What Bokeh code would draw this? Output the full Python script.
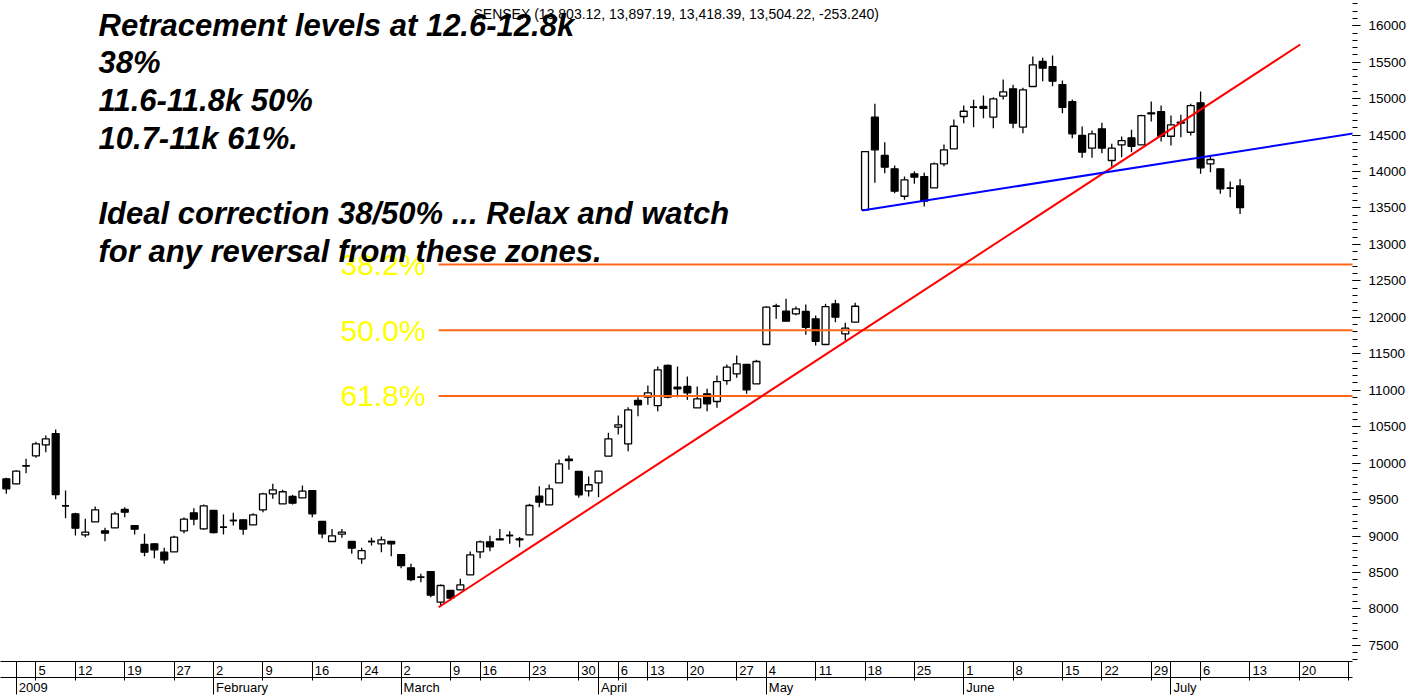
from bokeh.plotting import figure
from bokeh.models import (Range1d, LinearAxis, FixedTicker, SingleIntervalTicker,
                          Label, ColumnDataSource)
from bokeh.embed import file_html
from bokeh.resources import INLINE

# ---------------- data ----------------
dates = ["2008-12-31", "2009-01-01", "2009-01-02", "2009-01-05", "2009-01-06", "2009-01-07",
         "2009-01-09", "2009-01-12", "2009-01-13", "2009-01-14", "2009-01-15", "2009-01-16",
         "2009-01-19", "2009-01-20", "2009-01-21", "2009-01-22", "2009-01-23", "2009-01-27",
         "2009-01-28", "2009-01-29", "2009-01-30", "2009-02-02", "2009-02-03", "2009-02-04",
         "2009-02-05", "2009-02-06", "2009-02-09", "2009-02-10", "2009-02-11", "2009-02-12",
         "2009-02-13", "2009-02-16", "2009-02-17", "2009-02-18", "2009-02-19", "2009-02-20",
         "2009-02-24", "2009-02-25", "2009-02-26", "2009-02-27", "2009-03-02", "2009-03-03",
         "2009-03-04", "2009-03-05", "2009-03-06", "2009-03-09", "2009-03-12", "2009-03-13",
         "2009-03-16", "2009-03-17", "2009-03-18", "2009-03-19", "2009-03-20", "2009-03-23",
         "2009-03-24", "2009-03-25", "2009-03-26", "2009-03-27", "2009-03-30", "2009-03-31",
         "2009-04-01", "2009-04-02", "2009-04-06", "2009-04-08", "2009-04-09", "2009-04-13",
         "2009-04-15", "2009-04-16", "2009-04-17", "2009-04-20", "2009-04-21", "2009-04-22",
         "2009-04-23", "2009-04-24", "2009-04-27", "2009-04-28", "2009-04-29", "2009-05-04",
         "2009-05-05", "2009-05-06", "2009-05-07", "2009-05-08", "2009-05-11", "2009-05-12",
         "2009-05-13", "2009-05-14", "2009-05-15", "2009-05-18", "2009-05-19", "2009-05-20",
         "2009-05-21", "2009-05-22", "2009-05-25", "2009-05-26", "2009-05-27", "2009-05-28",
         "2009-05-29", "2009-06-01", "2009-06-02", "2009-06-03", "2009-06-04", "2009-06-05",
         "2009-06-08", "2009-06-09", "2009-06-10", "2009-06-11", "2009-06-12", "2009-06-15",
         "2009-06-16", "2009-06-17", "2009-06-18", "2009-06-22", "2009-06-23", "2009-06-24",
         "2009-06-25", "2009-06-26", "2009-06-29", "2009-06-30", "2009-07-01", "2009-07-02",
         "2009-07-03", "2009-07-06", "2009-07-07", "2009-07-08", "2009-07-09", "2009-07-10"]

opens = [9785, 9716, 9960, 10100, 10251, 10406, 9414, 9305, 9017, 9195, 9071, 9113,
         9364, 9144, 8884, 8893, 8778, 8783, 9071, 9318, 9099, 9350, 9121, 9213,
         9222, 9154, 9360, 9579, 9442, 9542, 9524, 9624, 9199, 8925, 9025, 8925,
         8687, 8925, 8893, 8925, 8746, 8564, 8435, 8513, 8092, 8253, 8262, 8468,
         8783, 8921, 8962, 9007, 8962, 9017, 9546, 9428, 9730, 10054, 9885, 9620,
         9730, 10095, 10493, 10265, 10859, 10904, 10790, 11339, 11041, 11051, 10759, 10951,
         10845, 11133, 11225, 11353, 11088, 11627, 12152, 12084, 12048, 12080, 11980, 11627,
         12185, 11774, 11933, 13475, 14745, 14220, 14037, 13661, 13968, 13931, 13776, 14106,
         14311, 14755, 14882, 14892, 14745, 15033, 15134, 14608, 15166, 15509, 15440, 15193,
         14960, 14494, 14320, 14586, 14151, 14366, 14462, 14366, 14805, 14823, 14484, 14676,
         14539, 14942, 14106, 14037, 13771, 13803]
highs = [9799, 9903, 10059, 10292, 10379, 10461, 9624, 9319, 9236, 9405, 9113, 9332,
         9395, 9144, 9030, 8902, 8838, 9003, 9254, 9382, 9432, 9350, 9295, 9318,
         9222, 9313, 9593, 9716, 9634, 9565, 9693, 9624, 9199, 9097, 9097, 8925,
         8838, 8975, 8994, 8925, 8746, 8619, 8481, 8513, 8335, 8253, 8413, 8788,
         8939, 9003, 9097, 9066, 8985, 9442, 9683, 9707, 10050, 10104, 9885, 9816,
         9889, 10416, 10653, 10767, 10904, 11065, 11325, 11353, 11325, 11188, 11051, 11019,
         11202, 11353, 11476, 11353, 11417, 12152, 12185, 12254, 12148, 12176, 12025, 12185,
         12240, 11925, 12199, 14274, 14929, 14402, 14082, 13931, 14004, 13982, 14124, 14370,
         14713, 14905, 14984, 15043, 15019, 15262, 15189, 15148, 15578, 15560, 15591, 15248,
         14988, 14617, 14562, 14668, 14380, 14480, 14572, 14778, 14960, 14905, 14768, 14778,
         14929, 15097, 14206, 14037, 13863, 13897]
lows = [9579, 9710, 9862, 10073, 10150, 9505, 9244, 9007, 8984, 9195, 8929, 9113,
        9258, 9021, 8723, 8696, 8619, 8783, 9039, 9148, 9085, 9039, 9021, 9144,
        9017, 9154, 9327, 9511, 9442, 9432, 9524, 9258, 8970, 8925, 8975, 8756,
        8619, 8870, 8778, 8723, 8559, 8380, 8367, 8161, 8037, 8115, 8262, 8468,
        8696, 8792, 8948, 8893, 8847, 9017, 9395, 9428, 9730, 9908, 9524, 9542,
        9533, 10095, 10392, 10163, 10643, 10800, 10712, 10890, 10904, 10868, 10759, 10712,
        10759, 11074, 11170, 10951, 11088, 11627, 11980, 11947, 12030, 11760, 11613, 11627,
        11933, 11682, 11933, 13475, 13845, 13977, 13702, 13612, 13831, 13520, 13776, 14073,
        14311, 14663, 14608, 14731, 14594, 14988, 14594, 14525, 15166, 15239, 15170, 14800,
        14457, 14188, 14188, 14251, 14059, 14196, 14265, 14366, 14686, 14412, 14357, 14471,
        14494, 13968, 13990, 13694, 13648, 13418]
closes = [9648, 9889, 9965, 10265, 10333, 9569, 9414, 9107, 9053, 9359, 9039, 9305,
          9327, 9094, 8778, 8811, 8674, 8984, 9231, 9231, 9414, 9048, 9121, 9213,
          9094, 9291, 9579, 9634, 9607, 9450, 9615, 9305, 9030, 9003, 9053, 8833,
          8801, 8925, 8948, 8893, 8596, 8403, 8435, 8188, 8321, 8147, 8331, 8742,
          8921, 8852, 8948, 9007, 8948, 9419, 9464, 9648, 9990, 10036, 9565, 9703,
          9889, 10333, 10526, 10731, 10800, 10964, 11280, 10904, 11019, 10964, 10882, 10814,
          11119, 11316, 11362, 11006, 11394, 12139, 12152, 11947, 12117, 11864, 11672, 12148,
          12002, 11851, 12152, 14274, 14298, 14059, 13730, 13886, 13922, 13593, 14106, 14298,
          14621, 14827, 14882, 14868, 14997, 15093, 14663, 15121, 15464, 15417, 15239, 14882,
          14517, 14265, 14517, 14320, 14320, 14425, 14347, 14768, 14792, 14484, 14641, 14663,
          14905, 14051, 14165, 13763, 13771, 13504]

# axis tick labels (trading-day index of the first session of each week / month)
week_ticks = [-2, 3, 7, 12, 17, 21, 26, 31, 36, 40, 45, 48, 53, 58, 62, 65, 69, 74,
              77, 82, 87, 92, 97, 102, 107, 111, 116, 121, 126, 131, 136]
week_labels = ["29", "5", "12", "19", "27", "2", "9", "16", "24", "2", "9", "16", "23",
               "30", "6", "13", "20", "27", "4", "11", "18", "25", "1", "8", "15", "22",
               "29", "6", "13", "20", "27"]
month_ticks = [1, 21, 40, 60, 77, 97, 118]
month_labels = ["2009", "February", "March", "April", "May", "June", "July"]

# Fibonacci retracement levels and trend lines
fib_levels = [12726, 11822, 10922]
fib_names = ["38.2%", "50.0%", "61.8%"]
fib_start = [43.8, 43.8, 43.8]
red_x = [43.8, 131.1]
red_y = [8023, 15742]
blue_x = [86.7, 136.5]
blue_y = [13465, 14523]

title_text = "SENSEX (13,803.12, 13,897.19, 13,418.39, 13,504.22, -253.240)"
note_lines = ["Retracement levels at 12.6-12.8k", "38%", "11.6-11.8k 50%", "10.7-11k 61%.",
              "", "Ideal correction 38/50% ... Relax and watch",
              "for any reversal from these zones."]

# ---------------- layout ----------------
FONT = "Liberation Sans"
FRAME_W, FRAME_H = 1352, 661
PX_PER_DAY = 9.87
PX_PER_PT = 0.0729
X0 = -0.59
X_END = X0 + FRAME_W / PX_PER_DAY
Y_TOP = 16346
Y_BOT = Y_TOP - FRAME_H / PX_PER_PT


def X(px):
    return X0 + px / PX_PER_DAY


def Y(py):
    return Y_TOP - py / PX_PER_PT


CW = {'a': .556, 'b': .556, 'c': .5, 'e': .556, 'h': .556, 'i': .222, 'l': .222,
      'n': .556, 'p': .556, 'r': .333, 'u': .556, 'y': .5, 'A': .667, 'F': .611,
      'J': .5, 'M': .833}


def text_w(s, size):
    return sum(CW.get(ch, .556) for ch in s) * size


p = figure(frame_width=FRAME_W, frame_height=FRAME_H,
           x_range=Range1d(X0, X_END), y_range=Range1d(Y_BOT, Y_TOP),
           x_axis_location=None, y_axis_location="right",
           output_backend="svg", toolbar_location=None, min_border=0)
p.outline_line_color = None
p.grid.visible = False
p.background_fill_color = "white"

# y axis
ya = p.yaxis[0]
ya.ticker = SingleIntervalTicker(interval=500, num_minor_ticks=5)
ya.axis_line_color = None
ya.major_tick_in = 0
ya.major_tick_out = 8
ya.minor_tick_in = 0
ya.minor_tick_out = 5
ya.major_tick_line_color = "black"
ya.minor_tick_line_color = "black"
ya.major_label_standoff = 8
ya.major_label_text_font = FONT
ya.major_label_text_font_size = "13.5px"
ya.major_label_text_color = "black"

# x axes (day row + month row)
day_pos = [round(t + (2.5 + text_w(l, 13) / 2) / PX_PER_DAY, 4) for t, l in zip(week_ticks, week_labels)]
mon_pos = [round(t + (2.5 + text_w(l, 13) / 2) / PX_PER_DAY, 4) for t, l in zip(month_ticks, month_labels)]

ax_d = LinearAxis(ticker=FixedTicker(ticks=day_pos, minor_ticks=sorted(set(week_ticks + month_ticks))),
                  major_label_overrides={k: v for k, v in zip(day_pos, week_labels)})
ax_m = LinearAxis(ticker=FixedTicker(ticks=mon_pos, minor_ticks=month_ticks),
                  major_label_overrides={k: v for k, v in zip(mon_pos, month_labels)})
for ax, tick_len, stand in ((ax_d, 19, -15), (ax_m, 17, -15)):
    ax.axis_line_color = "black"
    ax.major_tick_line_color = None
    ax.major_tick_in = 0
    ax.major_tick_out = 0
    ax.minor_tick_in = 0
    ax.minor_tick_out = tick_len
    ax.minor_tick_line_color = "black"
    ax.major_label_standoff = stand
    ax.major_label_text_font = FONT
    ax.major_label_text_font_size = "13px"
    ax.major_label_text_color = "black"
    p.add_layout(ax, "below")

# ---------------- candles ----------------
xs = list(range(len(dates)))
src = ColumnDataSource(dict(
    x=xs, high=highs, low=lows,
    top=[max(o, c) for o, c in zip(opens, closes)],
    bottom=[min(o, c) for o, c in zip(opens, closes)],
    fill=["white" if c >= o else "black" for o, c in zip(opens, closes)],
))
p.segment(x0="x", y0="low", x1="x", y1="high", source=src, line_color="black", line_width=1.3)
p.vbar(x="x", top="top", bottom="bottom", width=0.7, source=src,
       fill_color="fill", line_color="black", line_width=1.3)
doji = [i for i, (o, c) in enumerate(zip(opens, closes)) if o == c]
p.segment(x0=[i - 0.35 for i in doji], x1=[i + 0.35 for i in doji],
          y0=[closes[i] for i in doji], y1=[closes[i] for i in doji],
          line_color="black", line_width=1.5)

# ---------------- lines ----------------
p.segment(x0=fib_start, x1=[X_END + 1] * 3, y0=fib_levels, y1=fib_levels,
          line_color="#FF6619", line_width=2)
p.line(red_x, red_y, line_color="#FF0000", line_width=2)
p.line(blue_x, blue_y, line_color="#0000FF", line_width=2)

# ---------------- texts ----------------
for name, lvl in zip(fib_names, fib_levels):
    p.add_layout(Label(x=X(340), y=lvl, text=name, text_font=FONT, text_font_size="30px",
                       text_color="#FFFF00", text_baseline="middle", text_align="left"))

p.add_layout(Label(x=X(473), y=Y(13), text=title_text, text_font=FONT, text_font_size="14px",
                   text_color="black", text_baseline="middle", text_align="left"))

for k, line in enumerate(note_lines):
    if not line:
        continue
    p.add_layout(Label(x=X(98), y=Y(24.5 + 37.7 * k), text=line, text_font=FONT,
                       text_font_size="31px", text_font_style="bold italic",
                       text_color="black", text_baseline="middle", text_align="left"))

open("out.html", "w").write(file_html(p, INLINE))
